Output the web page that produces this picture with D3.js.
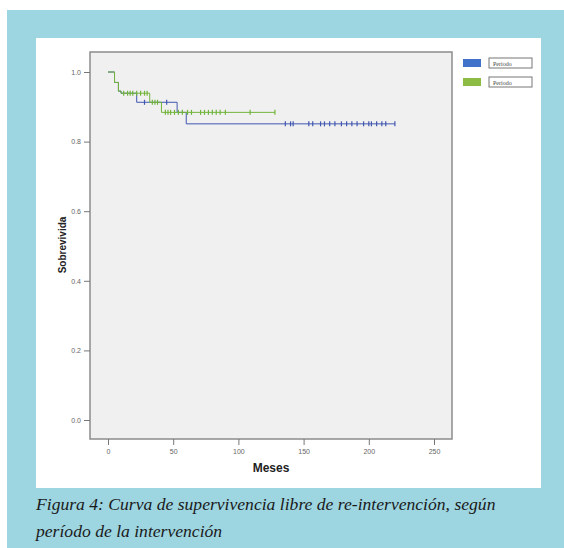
<!DOCTYPE html>
<html>
<head>
<meta charset="utf-8">
<script src="https://cdn.jsdelivr.net/npm/d3@7"></script>
<style>
  body { margin: 0; background: #fff; }
</style>
</head>
<body>
<div id="chart"></div>
<script>
// survival steps: [months, survival]
const stepsP1 = [[0, 1.0], [5, 0.97], [8, 0.945], [10, 0.939], [22, 0.913], [53, 0.884], [60, 0.851], [220, 0.851]];
const stepsP2 = [[0, 1.0], [5, 0.97], [8, 0.945], [10, 0.939], [32, 0.913], [41, 0.884], [128, 0.884]];

// censored cases (months)
const censP1 = [28, 45, 136, 140, 142, 154, 157, 163, 166, 170, 174, 179, 183, 187, 191, 196, 200, 202, 206, 210, 213, 220];
const censP2 = [12, 15, 17, 19, 22, 25, 28, 30, 34, 36, 38, 44, 46, 48, 51, 54, 57, 61, 64, 71, 74, 77, 80, 83, 86, 90, 109, 128];

const xTicks = [0, 50, 100, 150, 200, 250];
const yTicks = [0, 0.2, 0.4, 0.6, 0.8, 1.0];
const legendLabels = ["Período", "Período"];
const caption = ["Figura 4: Curva de supervivencia libre de re-intervención, según",
                 "período de la intervención"];

const blue = "#4157b0", green = "#72b43c";

var svg = d3.select("#chart").append("svg")
    .attr("width", 564)
    .attr("height", 548);

// page frame
svg.append("rect").attr("x", 7).attr("y", 10).attr("width", 557).attr("height", 538).attr("fill", "#9dd5e1");
svg.append("rect").attr("x", 36).attr("y", 38).attr("width", 505).attr("height", 450).attr("fill", "#ffffff");

// scales
var x = d3.scaleLinear().domain([0, 250]).range([108, 434]);
var y = d3.scaleLinear().domain([0, 1]).range([420, 72]);

// plot area
svg.append("rect")
    .attr("x", 90).attr("y", 52).attr("width", 362).attr("height", 387)
    .attr("fill", "#f0f0f0")
    .attr("stroke", "#8c8c8c")
    .attr("stroke-width", 1.5);

// Y axis
var yAxis = svg.append("g")
    .attr("transform", "translate(90,0)")
    .call(d3.axisLeft(y).tickValues(yTicks).tickFormat(d3.format(".1f")).tickSize(6).tickSizeOuter(0));
yAxis.select(".domain").remove();
yAxis.selectAll("line").attr("stroke", "#777");
yAxis.selectAll("text").attr("fill", "#666").style("font-family", "Liberation Sans, Arial").style("font-size", "7px");

// X axis
var xAxis = svg.append("g")
    .attr("transform", "translate(0,439)")
    .call(d3.axisBottom(x).tickValues(xTicks).tickSize(6).tickSizeOuter(0));
xAxis.select(".domain").remove();
xAxis.selectAll("line").attr("stroke", "#777");
xAxis.selectAll("text").attr("fill", "#666").attr("dy", "0.9em").style("font-family", "Liberation Sans, Arial").style("font-size", "7px");

// axis titles
svg.append("text")
    .attr("x", 271).attr("y", 472)
    .attr("text-anchor", "middle")
    .style("font-family", "Liberation Sans, Arial").style("font-weight", "bold").style("font-size", "12px")
    .attr("fill", "#222")
    .text("Meses");
svg.append("text")
    .attr("transform", "translate(66,245) rotate(-90)")
    .attr("text-anchor", "middle")
    .style("font-family", "Liberation Sans, Arial").style("font-weight", "bold").style("font-size", "10px")
    .attr("fill", "#222")
    .text("Sobrevivida");

// survival curves
var line = d3.line().x(d => x(d[0])).y(d => y(d[1])).curve(d3.curveStepAfter);

function levelAt(steps, t) {
    var s = steps[0][1];
    steps.forEach(d => { if (d[0] <= t) s = d[1]; });
    return s;
}

[[stepsP1, censP1, blue], [stepsP2, censP2, green]].forEach(function(g) {
    svg.append("path")
        .datum(g[0])
        .attr("d", line)
        .attr("fill", "none")
        .attr("stroke", g[2])
        .attr("stroke-width", 1);
    svg.append("g").selectAll("line")
        .data(g[1])
        .enter()
        .append("line")
        .attr("x1", d => x(d)).attr("x2", d => x(d))
        .attr("y1", d => y(levelAt(g[0], d)) - 2.5)
        .attr("y2", d => y(levelAt(g[0], d)) + 2.5)
        .attr("stroke", g[2])
        .attr("stroke-width", 1.2);
});

// legend
var legend = svg.append("g").selectAll("g")
    .data(legendLabels)
    .enter()
    .append("g")
    .attr("transform", (d, i) => "translate(463," + (59 + i * 19) + ")");
legend.append("rect")
    .attr("width", 18).attr("height", 8)
    .attr("fill", (d, i) => i == 0 ? "#3f72c8" : "#8cbc44");
legend.append("rect")
    .attr("x", 26).attr("y", -1).attr("width", 43).attr("height", 10)
    .attr("fill", "#fff").attr("stroke", "#777").attr("stroke-width", 1);
legend.append("text")
    .attr("x", 30).attr("y", 6.5)
    .style("font-family", "Liberation Serif, serif").style("font-size", "6px")
    .attr("fill", "#444")
    .text(d => d);

// caption
svg.append("g").selectAll("text")
    .data(caption)
    .enter()
    .append("text")
    .attr("x", 36)
    .attr("y", (d, i) => 510 + i * 27)
    .style("font-family", "Liberation Serif, Times New Roman, serif")
    .style("font-style", "italic")
    .style("font-size", "17.6px")
    .attr("fill", "#1a1a1a")
    .text(d => d);
</script>
</body>
</html>
